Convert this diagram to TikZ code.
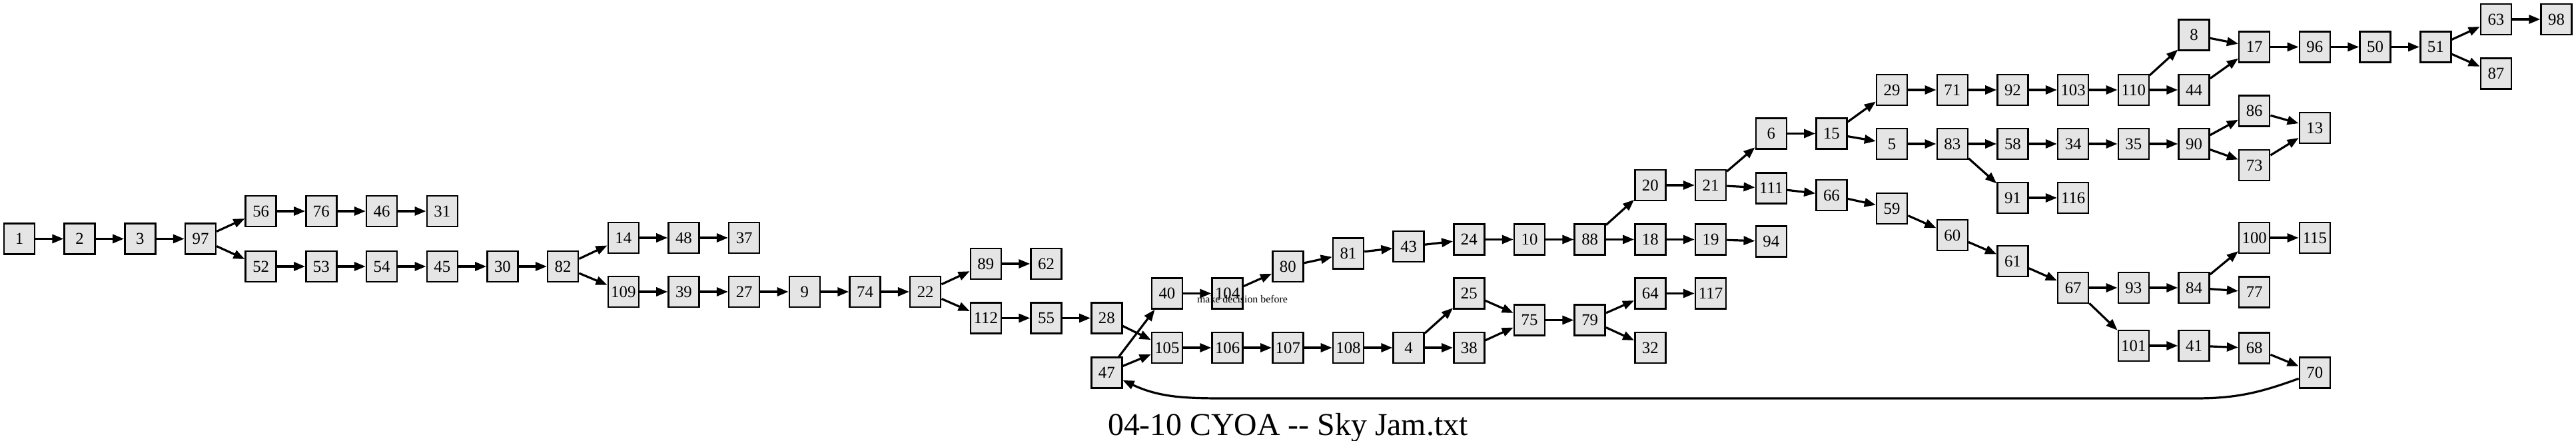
\documentclass[tikz,border=0pt]{standalone}
\usepackage{fontspec}
\setmainfont{Liberation Serif}
\usepackage{tikz}
\usetikzlibrary{arrows.meta}
\definecolor{pagefill}{RGB}{229,229,229}
\tikzset{
  passage/.style={draw=black, line width=0.25mm, fill=pagefill,
    minimum width=4.6mm, minimum height=4.6mm, inner sep=0pt,
    font=\fontsize{7.06pt}{8pt}\selectfont},
  jump/.style={line width=0.32mm, -{Triangle[length=1.7mm,width=1.3mm]}}
}

\begin{document}
\begin{tikzpicture}[x=9.068mm, y=-0.1mm]
    \useasboundingbox (-0.3198,0) rectangle (42.3245,661);
    % passages, column by column
    \node[passage] (n1) at (0,358.5) {1};
    \node[passage] (n2) at (1,358.5) {2};
    \node[passage] (n3) at (2,358.5) {3};
    \node[passage] (n97) at (3,358.5) {97};
    \node[passage] (n56) at (4,317) {56};
    \node[passage] (n52) at (4,400) {52};
    \node[passage] (n76) at (5,317) {76};
    \node[passage] (n53) at (5,400) {53};
    \node[passage] (n46) at (6,317) {46};
    \node[passage] (n54) at (6,400) {54};
    \node[passage] (n31) at (7,317) {31};
    \node[passage] (n45) at (7,400) {45};
    \node[passage] (n30) at (8,400) {30};
    \node[passage] (n82) at (9,400) {82};
    \node[passage] (n14) at (10,357) {14};
    \node[passage] (n109) at (10,438) {109};
    \node[passage] (n48) at (11,357) {48};
    \node[passage] (n39) at (11,438) {39};
    \node[passage] (n37) at (12,357) {37};
    \node[passage] (n27) at (12,438) {27};
    \node[passage] (n9) at (13,438) {9};
    \node[passage] (n74) at (14,438) {74};
    \node[passage] (n22) at (15,438) {22};
    \node[passage] (n89) at (16,396) {89};
    \node[passage] (n112) at (16,477.5) {112};
    \node[passage] (n62) at (17,396) {62};
    \node[passage] (n55) at (17,477.5) {55};
    \node[passage] (n28) at (18,477.5) {28};
    \node[passage] (n47) at (18,559.5) {47};
    \node[passage] (n40) at (19,440.5) {40};
    \node[passage] (n105) at (19,522) {105};
    \node[passage] (n104) at (20,440.5) {104};
    \node[passage] (n106) at (20,522) {106};
    \node[passage] (n80) at (21,400) {80};
    \node[passage] (n107) at (21,522) {107};
    \node[passage] (n81) at (22,380.5) {81};
    \node[passage] (n108) at (22,522) {108};
    \node[passage] (n43) at (23,370) {43};
    \node[passage] (n4) at (23,522) {4};
    \node[passage] (n24) at (24,359.5) {24};
    \node[passage] (n25) at (24,440.5) {25};
    \node[passage] (n38) at (24,522) {38};
    \node[passage] (n10) at (25,359.5) {10};
    \node[passage] (n75) at (25,480.5) {75};
    \node[passage] (n88) at (26,359.5) {88};
    \node[passage] (n79) at (26,480.5) {79};
    \node[passage] (n20) at (27,278) {20};
    \node[passage] (n18) at (27,359.5) {18};
    \node[passage] (n64) at (27,440.5) {64};
    \node[passage] (n32) at (27,522) {32};
    \node[passage] (n21) at (28,278) {21};
    \node[passage] (n19) at (28,359.5) {19};
    \node[passage] (n117) at (28,440.5) {117};
    \node[passage] (n6) at (29,200.5) {6};
    \node[passage] (n111) at (29,282.5) {111};
    \node[passage] (n94) at (29,362.5) {94};
    \node[passage] (n15) at (30,200.5) {15};
    \node[passage] (n66) at (30,293) {66};
    \node[passage] (n29) at (31,135) {29};
    \node[passage] (n5) at (31,216) {5};
    \node[passage] (n59) at (31,313) {59};
    \node[passage] (n71) at (32,135) {71};
    \node[passage] (n83) at (32,216) {83};
    \node[passage] (n60) at (32,353) {60};
    \node[passage] (n92) at (33,135) {92};
    \node[passage] (n58) at (33,216) {58};
    \node[passage] (n91) at (33,297) {91};
    \node[passage] (n61) at (33,392) {61};
    \node[passage] (n103) at (34,135) {103};
    \node[passage] (n34) at (34,216) {34};
    \node[passage] (n116) at (34,297) {116};
    \node[passage] (n67) at (34,432) {67};
    \node[passage] (n110) at (35,135) {110};
    \node[passage] (n35) at (35,216) {35};
    \node[passage] (n93) at (35,432) {93};
    \node[passage] (n101) at (35,519) {101};
    \node[passage] (n8) at (36,52.5) {8};
    \node[passage] (n44) at (36,135) {44};
    \node[passage] (n90) at (36,216) {90};
    \node[passage] (n84) at (36,432) {84};
    \node[passage] (n41) at (36,519) {41};
    \node[passage] (n17) at (37,70.5) {17};
    \node[passage] (n86) at (37,166.5) {86};
    \node[passage] (n73) at (37,248) {73};
    \node[passage] (n100) at (37,357) {100};
    \node[passage] (n77) at (37,438.5) {77};
    \node[passage] (n68) at (37,522.5) {68};
    \node[passage] (n96) at (38,70.5) {96};
    \node[passage] (n13) at (38,192) {13};
    \node[passage] (n115) at (38,357) {115};
    \node[passage] (n70) at (38,559.5) {70};
    \node[passage] (n50) at (39,70.5) {50};
    \node[passage] (n51) at (40,70.5) {51};
    \node[passage] (n63) at (41,29) {63};
    \node[passage] (n87) at (41,110.5) {87};
    \node[passage] (n98) at (42,29) {98};

    % choices
    \draw[jump] (n1) edge (n2) (n2) edge (n3) (n3) edge (n97);
    \draw[jump] (n97) edge (n56) (n97) edge (n52);
    \draw[jump] (n56) edge (n76) (n76) edge (n46) (n46) edge (n31);
    \draw[jump] (n52) edge (n53) (n53) edge (n54) (n54) edge (n45) (n45) edge (n30) (n30) edge (n82);
    \draw[jump] (n82) edge (n14) (n82) edge (n109);
    \draw[jump] (n14) edge (n48) (n48) edge (n37);
    \draw[jump] (n109) edge (n39) (n39) edge (n27) (n27) edge (n9) (n9) edge (n74) (n74) edge (n22);
    \draw[jump] (n22) edge (n89) (n22) edge (n112) (n89) edge (n62);
    \draw[jump] (n112) edge (n55) (n55) edge (n28) (n28) edge (n105);
    \draw[jump] (n47) edge (n40) (n47) edge (n105);
    \draw[jump] (n40) edge (n104) (n104) edge (n80) (n80) edge (n81) (n81) edge (n43);
    \draw[jump] (n43) edge (n24) (n24) edge (n10) (n10) edge (n88);
    \draw[jump] (n88) edge (n20) (n88) edge (n18) (n20) edge (n21) (n18) edge (n19) (n19) edge (n94);
    \draw[jump] (n21) edge (n6) (n21) edge (n111) (n6) edge (n15);
    \draw[jump] (n15) edge (n29) (n15) edge (n5);
    \draw[jump] (n29) edge (n71) (n71) edge (n92) (n92) edge (n103) (n103) edge (n110);
    \draw[jump] (n110) edge (n8) (n110) edge (n44) (n8) edge (n17) (n44) edge (n17);
    \draw[jump] (n17) edge (n96) (n96) edge (n50) (n50) edge (n51);
    \draw[jump] (n51) edge (n63) (n51) edge (n87) (n63) edge (n98);
    \draw[jump] (n5) edge (n83) (n83) edge (n58) (n83) edge (n91) (n91) edge (n116);
    \draw[jump] (n58) edge (n34) (n34) edge (n35) (n35) edge (n90);
    \draw[jump] (n90) edge (n86) (n90) edge (n73) (n86) edge (n13) (n73) edge (n13);
    \draw[jump] (n111) edge (n66) (n66) edge (n59) (n59) edge (n60) (n60) edge (n61) (n61) edge (n67);
    \draw[jump] (n67) edge (n93) (n67) edge (n101) (n93) edge (n84);
    \draw[jump] (n84) edge (n100) (n84) edge (n77) (n100) edge (n115);
    \draw[jump] (n101) edge (n41) (n41) edge (n68) (n68) edge (n70);
    \draw[jump] (n105) edge (n106) (n106) edge (n107) (n107) edge (n108) (n108) edge (n4);
    \draw[jump] (n4) edge (n25) (n4) edge (n38) (n25) edge (n75) (n38) edge (n75);
    \draw[jump] (n75) edge (n79) (n79) edge (n64) (n79) edge (n32) (n64) edge (n117);
    % back loop
    \coordinate (loopR) at (36.02,598);
    \coordinate (loopL) at (19.96,598);
    \draw[jump] (n70) to[out=200,in=0] (loopR) -- (loopL) to[out=180,in=-25] (n47);

    \node[anchor=base, font=\fontsize{4.52pt}{5pt}\selectfont] (lbl) at (20.247,454) {make decision before};
    \node[anchor=base, font=\fontsize{13.6pt}{15pt}\selectfont] (title) at (21.0,653.5) {04-10 CYOA -\kern0pt- Sky Jam.txt};
\end{tikzpicture}
\end{document}
